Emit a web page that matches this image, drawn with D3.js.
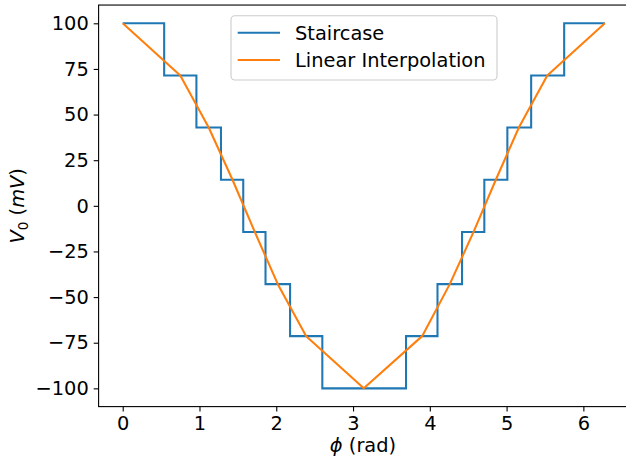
<!DOCTYPE html>
<html>
<head>
<meta charset="utf-8">
<script src="https://cdn.jsdelivr.net/npm/d3@7"></script>
<style>
  body { margin: 0; background: #fff; }
  text { font-family: "DejaVu Sans", sans-serif; fill: #000; }
</style>
</head>
<body>
<div id="chart"></div>
<script>
// Staircase: edges where the level changes, and the level held after each edge
const stairEdges = [0, 0.54, 0.96, 1.28, 1.57, 1.86, 2.18, 2.60, 3.69, 4.10, 4.42, 4.71, 5.01, 5.32, 5.75, 6.28];
const stairLevels = [100, 71.4, 42.9, 14.3, -14.3, -42.9, -71.4, -100, -71.4, -42.9, -14.3, 14.3, 42.9, 71.4, 100, 100];

// Linear interpolation vertices
const interpX = [0, 0.75, 1.12, 1.43, 1.72, 2.02, 2.39, 3.14, 3.90, 4.26, 4.57, 4.86, 5.16, 5.53, 6.28];
const interpY = [100, 71.4, 42.9, 14.3, -14.3, -42.9, -71.4, -100, -71.4, -42.9, -14.3, 14.3, 42.9, 71.4, 100];

const xTicks = [0, 1, 2, 3, 4, 5, 6];
const yTicks = [-100, -75, -50, -25, 0, 25, 50, 75, 100];
const seriesNames = ['Staircase', 'Linear Interpolation'];
const colors = ['#1f77b4', '#ff7f0e'];

const width = 626, height = 466;
const plotLeft = 98.6, plotRight = 629.2, plotTop = 5.05, plotBottom = 406.6;
const fontSize = 19.4;

const svg = d3.select('#chart')
    .append('svg')
    .attr('width', width)
    .attr('height', height);

const x = d3.scaleLinear().domain([-0.314, 6.597]).range([plotLeft, plotRight]);
const y = d3.scaleLinear().domain([-110, 110]).range([plotBottom, plotTop]);

svg.append('clipPath').attr('id', 'clip')
    .append('rect')
    .attr('x', plotLeft).attr('y', plotTop)
    .attr('width', plotRight - plotLeft).attr('height', plotBottom - plotTop);

const plot = svg.append('g').attr('clip-path', 'url(#clip)');

const stairData = stairEdges.map((e, i) => [e, stairLevels[i]]);
const interpData = interpX.map((e, i) => [e, interpY[i]]);

plot.append('path')
    .datum(stairData)
    .attr('fill', 'none')
    .attr('stroke', colors[0])
    .attr('stroke-width', 2.08)
    .attr('d', d3.line().x(d => x(d[0])).y(d => y(d[1])).curve(d3.curveStepAfter));

plot.append('path')
    .datum(interpData)
    .attr('fill', 'none')
    .attr('stroke', colors[1])
    .attr('stroke-width', 2.08)
    .attr('stroke-linejoin', 'round')
    .attr('d', d3.line().x(d => x(d[0])).y(d => y(d[1])));

// Axes
const xAxis = svg.append('g')
    .attr('transform', `translate(0,${plotBottom})`)
    .call(d3.axisBottom(x).tickValues(xTicks).tickSize(4.9).tickPadding(4.9).tickFormat(d3.format('d')));
const yAxis = svg.append('g')
    .attr('transform', `translate(${plotLeft},0)`)
    .call(d3.axisLeft(y).tickValues(yTicks).tickSize(4.9).tickPadding(4.9).tickFormat(d3.format('d')));

[xAxis, yAxis].forEach(a => {
    a.select('.domain').remove();
    a.selectAll('.tick line').attr('stroke', '#000').attr('stroke-width', 1.1);
    a.selectAll('.tick text')
        .style('font-family', '"DejaVu Sans", sans-serif')
        .style('font-size', fontSize + 'px')
        .attr('fill', '#000');
});

// Spines
svg.append('rect')
    .attr('x', plotLeft).attr('y', plotTop)
    .attr('width', plotRight - plotLeft).attr('height', plotBottom - plotTop)
    .attr('fill', 'none')
    .attr('stroke', '#000')
    .attr('stroke-width', 1.1);

// Axis labels
const xl = svg.append('text')
    .attr('x', 363)
    .attr('y', 452)
    .attr('text-anchor', 'middle')
    .style('font-size', fontSize + 'px');
xl.append('tspan').style('font-style', 'italic').text('ϕ');
xl.append('tspan').text(' (rad)');

const yl = svg.append('text')
    .attr('transform', `translate(24,${(plotTop + plotBottom) / 2}) rotate(-90)`)
    .attr('text-anchor', 'middle')
    .style('font-size', fontSize + 'px');
yl.append('tspan').style('font-style', 'italic').text('V');
yl.append('tspan').attr('dy', 4).style('font-size', (fontSize * 0.7) + 'px').text('0');
yl.append('tspan').attr('dy', -4).text(' (');
yl.append('tspan').style('font-style', 'italic').text('mV');
yl.append('tspan').text(')');

// Legend
const legend = svg.append('g');
legend.append('rect')
    .attr('x', 231).attr('y', 15.7)
    .attr('width', 266).attr('height', 64.3)
    .attr('rx', 3.9)
    .attr('fill', '#fff')
    .attr('fill-opacity', 0.8)
    .attr('stroke', '#cccccc')
    .attr('stroke-width', 1.1);

const legendRows = [32.7, 60];
seriesNames.forEach((name, i) => {
    legend.append('line')
        .attr('x1', 237.7).attr('x2', 280)
        .attr('y1', legendRows[i]).attr('y2', legendRows[i])
        .attr('stroke', colors[i])
        .attr('stroke-width', 2.08);
    legend.append('text')
        .attr('x', 295)
        .attr('y', legendRows[i])
        .attr('dy', '0.36em')
        .style('font-size', fontSize + 'px')
        .text(name);
});
</script>
</body>
</html>
